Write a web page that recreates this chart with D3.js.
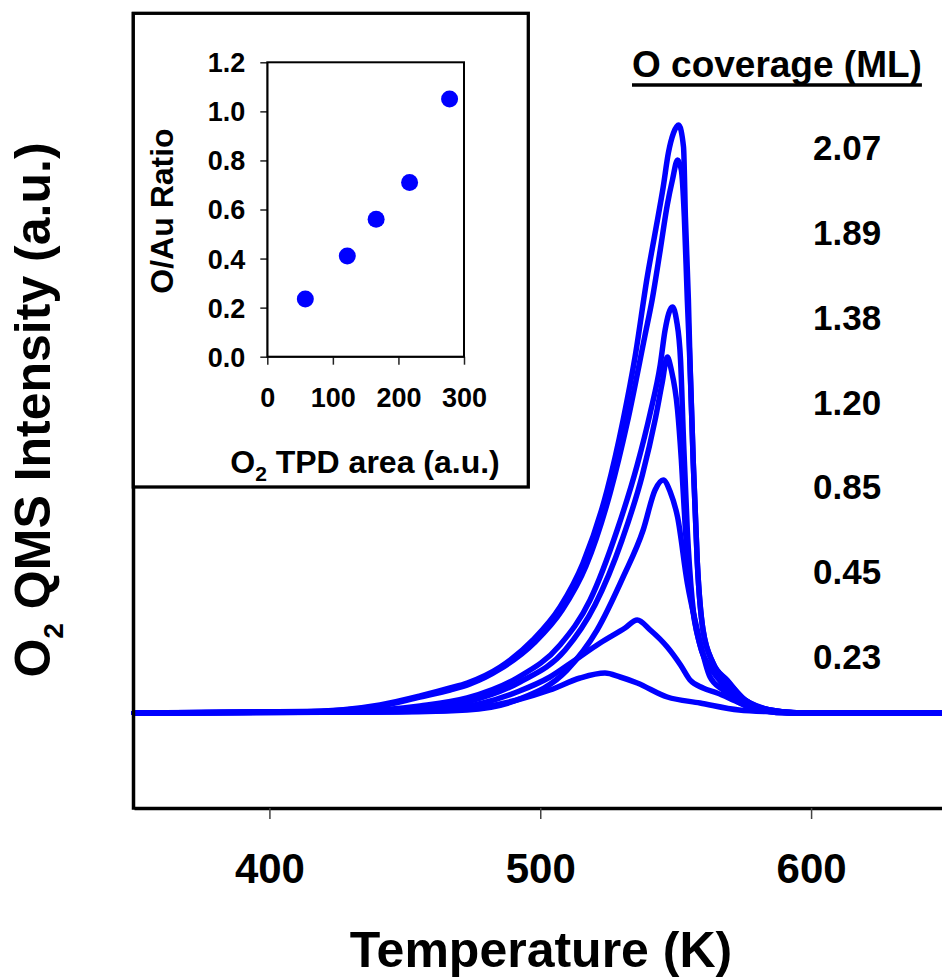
<!DOCTYPE html>
<html>
<head>
<meta charset="utf-8">
<script src="https://cdnjs.cloudflare.com/ajax/libs/d3/7.8.5/d3.min.js"></script>
<style>
body { margin: 0; background: #fff; }
svg { display: block; font-family: "Liberation Sans", Arial, sans-serif; font-weight: bold; }
</style>
</head>
<body>
<svg id="chart" width="942" height="979"></svg>
<script>
'use strict';

// O2 TPD traces as [temperature (K), QMS intensity (a.u.)]
let cov207 = [[350, 0], [411.3, 0.01], [440.8, 0.08], [455.6, 0.17], [466.7, 0.25], [473.0, 0.30],
    [485.2, 0.46], [497.3, 0.73], [507.3, 1.06], [515.8, 1.50], [524.7, 2.23], [530.6, 2.93],
    [535.0, 3.56], [539.5, 4.36], [542.4, 4.80], [545.4, 5.26], [547.3, 5.60], [549.2, 5.80],
    [551.1, 5.88], [552.9, 5.66], [553.6, 4.96], [554.7, 4.13], [555.3, 3.50], [556.5, 2.50],
    [558.0, 1.50], [560.1, 0.83], [563.8, 0.50], [569.0, 0.33], [575.6, 0.13], [584.9, 0.03],
    [595.9, 0], [650, 0]];
let cov189 = [[350, 0], [411.3, 0.01], [440.8, 0.07], [455.6, 0.16], [466.7, 0.23], [474.1, 0.29],
    [485.2, 0.44], [498.1, 0.71], [508.1, 1.03], [516.9, 1.47], [525.8, 2.20], [532.1, 2.90],
    [538.7, 3.78], [541.3, 4.13], [544.3, 4.63], [546.9, 5.08], [548.8, 5.33], [550.7, 5.53],
    [552.1, 5.43], [553.2, 4.96], [554.3, 4.13], [555.3, 3.48], [556.5, 2.50], [558.0, 1.50],
    [560.1, 0.83], [563.8, 0.50], [569.0, 0.32], [575.6, 0.13], [584.9, 0.03], [595.9, 0], [650, 0]];
let cov138 = [[350, 0], [429.8, 0.02], [455.6, 0.07], [473.0, 0.15], [491.4, 0.35], [507.3, 0.68],
    [518.4, 1.13], [528.4, 1.83], [535.8, 2.48], [540.6, 3.00], [544.3, 3.48], [546.1, 3.83],
    [548.8, 4.06], [550.3, 3.93], [551.8, 3.53], [552.9, 2.73], [554.3, 1.83], [556.1, 1.13],
    [559.0, 0.68], [563.4, 0.43], [569.0, 0.25], [575.6, 0.11], [584.9, 0.02], [595.9, 0], [650, 0]];
let cov120 = [[350, 0], [429.8, 0.01], [455.6, 0.05], [474.1, 0.12], [492.5, 0.31], [509.2, 0.63],
    [520.2, 1.08], [530.2, 1.73], [537.7, 2.38], [542.4, 2.93], [545.0, 3.30], [546.9, 3.56],
    [548.4, 3.43], [550.7, 3.03], [552.1, 2.53], [553.6, 1.83], [555.7, 1.16], [559.0, 0.68],
    [564.5, 0.40], [570.1, 0.23], [577.5, 0.10], [586.7, 0.02], [595.9, 0], [650, 0]];
let cov085 = [[350, 0], [448.2, 0.01], [473.0, 0.03], [491.4, 0.13], [509.9, 0.43], [521.0, 0.83],
    [530.6, 1.36], [538.0, 1.83], [542.4, 2.23], [545.4, 2.33], [548.0, 2.21], [550.7, 1.96],
    [554.3, 1.30], [558.0, 0.83], [562.7, 0.36], [567.5, 0.23], [573.8, 0.10], [581.2, 0.03],
    [592.2, 0], [650, 0]];
let cov045 = [[350, 0], [440.8, 0.01], [463.0, 0.03], [478.9, 0.10], [491.4, 0.21], [503.6, 0.36],
    [512.9, 0.53], [522.1, 0.70], [531.3, 0.85], [535.8, 0.93], [540.6, 0.83], [546.9, 0.66],
    [551.8, 0.48], [555.3, 0.33], [560.1, 0.25], [565.3, 0.20], [573.8, 0.10], [581.2, 0.03],
    [592.2, 0], [650, 0]];
let cov023 = [[350, 0], [459.3, 0.02], [478.9, 0.06], [491.4, 0.13], [503.6, 0.23], [514.7, 0.35],
    [523.9, 0.40], [529.5, 0.36], [535.8, 0.30], [546.9, 0.16], [559.0, 0.10], [573.4, 0.03],
    [586.7, 0.01], [595.9, 0], [650, 0]];

let traces = [cov207, cov189, cov138, cov120, cov085, cov045, cov023];
let coverageLabels = ['2.07', '1.89', '1.38', '1.20', '0.85', '0.45', '0.23'];
let tempTicks = [400, 500, 600];

// inset: O/Au ratio against integrated O2 TPD area
let tpdArea = [58, 122, 166, 217, 278];
let oAuRatio = [0.235, 0.41, 0.56, 0.71, 1.05];
let insetXTicks = [0, 100, 200, 300];
let insetYTicks = [0, 0.2, 0.4, 0.6, 0.8, 1.0, 1.2];

let blue = '#0000ff';
let font = '"Liberation Sans", Arial, sans-serif';

let svg = d3.select('#chart');
svg.append('rect').attr('width', 942).attr('height', 979).attr('fill', '#fff');

let x = d3.scaleLinear().domain([350, 650]).range([134, 946.5]);
let y = d3.scaleLinear().domain([-0.95, 7.01]).range([808, 12]);

let line = d3.line()
    .curve(d3.curveMonotoneX)
    .x(d => x(d[0]))
    .y(d => y(d[1]));

svg.append('g')
    .selectAll('path')
    .data(traces)
    .join('path')
    .attr('d', line)
    .attr('fill', 'none')
    .attr('stroke', blue)
    .attr('stroke-width', 5.5)
    .attr('stroke-linejoin', 'round')
    .attr('stroke-linecap', 'round');

// bottom axis, ticks pointing down
let xAxis = svg.append('g')
    .attr('transform', 'translate(0,808)')
    .call(d3.axisBottom(x).tickValues(tempTicks).tickSize(11).tickSizeOuter(0).tickFormat(d3.format('d')));
xAxis.attr('font-family', font).attr('font-size', 42).attr('font-weight', 'bold');
xAxis.select('.domain').attr('stroke', '#000').attr('stroke-width', 3.5);
xAxis.selectAll('.tick line').attr('stroke', '#444').attr('stroke-width', 1.5);
xAxis.selectAll('.tick text').attr('y', 75).attr('dy', null).attr('fill', '#000');

// left axis line, no ticks
svg.append('line')
    .attr('x1', x(350) - 0.5).attr('x2', x(350) - 0.5)
    .attr('y1', y(7.01)).attr('y2', y(-0.95) + 1.75)
    .attr('stroke', '#000')
    .attr('stroke-width', 3.5);

svg.append('text')
    .attr('x', 541)
    .attr('y', 967)
    .attr('text-anchor', 'middle')
    .attr('font-size', 50)
    .text('Temperature (K)');

let yTitle = svg.append('text')
    .attr('transform', 'translate(50,410) rotate(-90)')
    .attr('text-anchor', 'middle')
    .attr('font-size', 50);
yTitle.append('tspan').text('O');
yTitle.append('tspan').attr('font-size', 28).attr('dy', 13).text('2');
yTitle.append('tspan').attr('dy', -13).text(' QMS Intensity (a.u.)');

// coverage legend
let header = svg.append('text')
    .attr('x', 632)
    .attr('y', 77)
    .attr('font-size', 37)
    .text('O coverage (ML)');
let headerWidth = header.node().getComputedTextLength();
svg.append('line')
    .attr('x1', 632).attr('x2', 632 + headerWidth)
    .attr('y1', 85).attr('y2', 85)
    .attr('stroke', '#000')
    .attr('stroke-width', 3.5);

let labelY = d3.scalePoint().domain(coverageLabels).range([160, 669]);
svg.append('g')
    .selectAll('text')
    .data(coverageLabels)
    .join('text')
    .attr('x', 813)
    .attr('y', d => labelY(d))
    .attr('font-size', 35)
    .text(d => d);

// inset box
svg.append('rect')
    .attr('x', 133.3).attr('y', 13.3)
    .attr('width', 395).attr('height', 473.7)
    .attr('fill', '#fff')
    .attr('stroke', '#000')
    .attr('stroke-width', 3.3);

let ix = d3.scaleLinear().domain([0, 300]).range([267.3, 464]);
let iy = d3.scaleLinear().domain([0, 1.2]).range([356.7, 62.3]);

let ixAxis = svg.append('g')
    .attr('transform', `translate(0,${iy(0)})`)
    .call(d3.axisBottom(ix).tickValues(insetXTicks).tickSize(8).tickSizeOuter(0).tickFormat(d3.format('d')));
ixAxis.attr('font-family', font).attr('font-size', 27).attr('font-weight', 'bold');
ixAxis.selectAll('.tick line').attr('stroke', '#222').attr('stroke-width', 1.5);
ixAxis.selectAll('.tick text').attr('y', 50).attr('dy', null).attr('fill', '#000');

let iyAxis = svg.append('g')
    .attr('transform', `translate(${ix(0)},0)`)
    .call(d3.axisLeft(iy).tickValues(insetYTicks).tickSize(7).tickSizeOuter(0).tickFormat(d3.format('.1f')));
iyAxis.attr('font-family', font).attr('font-size', 27).attr('font-weight', 'bold');
iyAxis.selectAll('.tick line').attr('stroke', '#222').attr('stroke-width', 1.5);
iyAxis.selectAll('.tick text').attr('x', -22).attr('dy', '0.35em').attr('fill', '#000');

svg.append('rect')
    .attr('x', ix(0)).attr('y', iy(1.2))
    .attr('width', ix(300) - ix(0)).attr('height', iy(0) - iy(1.2))
    .attr('fill', 'none')
    .attr('stroke', '#000')
    .attr('stroke-width', 2);

svg.append('g')
    .selectAll('circle')
    .data(tpdArea)
    .join('circle')
    .attr('cx', d => ix(d))
    .attr('cy', (d, i) => iy(oAuRatio[i]))
    .attr('r', 8.5)
    .attr('fill', blue);

svg.append('text')
    .attr('transform', 'translate(173,211) rotate(-90)')
    .attr('text-anchor', 'middle')
    .attr('font-size', 32)
    .text('O/Au Ratio');

let ixTitle = svg.append('text')
    .attr('x', 365)
    .attr('y', 473)
    .attr('text-anchor', 'middle')
    .attr('font-size', 32);
ixTitle.append('tspan').text('O');
ixTitle.append('tspan').attr('font-size', 21).attr('dy', 8).text('2');
ixTitle.append('tspan').attr('dy', -8).text(' TPD area (a.u.)');
</script>
</body>
</html>
